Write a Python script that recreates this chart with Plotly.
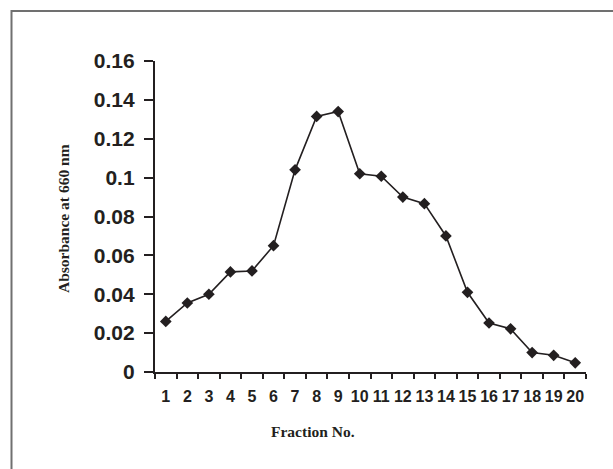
import plotly.graph_objects as go

fractions = list(range(1, 21))
absorbance = [0.026, 0.0355, 0.040, 0.0515, 0.052, 0.065, 0.104, 0.1315, 0.134, 0.102,
              0.1007, 0.090, 0.0866, 0.070, 0.041, 0.0252, 0.0222, 0.010, 0.0086, 0.0047]
y_ticks = [0, 0.02, 0.04, 0.06, 0.08, 0.1, 0.12, 0.14, 0.16]
y_tick_text = ["0", "0.02", "0.04", "0.06", "0.08", "0.1", "0.12", "0.14", "0.16"]
x_title = "Fraction No."
y_title = "Absorbance at 660 nm"

ink = "#231f20"
W, H = 613, 469
L, R, T, B = 155, 27, 61, 97
pw, ph = W - L - R, H - T - B

fig = go.Figure()
fig.add_trace(go.Scatter(
    x=fractions, y=absorbance, mode="lines+markers",
    line=dict(color=ink, width=1.6),
    marker=dict(symbol="diamond", size=9, color=ink),
    showlegend=False, cliponaxis=False, hoverinfo="skip",
))

def px2x(p):
    return (p - L) / pw

def px2y(p):
    return (H - B - p) / ph

fig.update_layout(
    width=W, height=H,
    margin=dict(l=L, r=R, t=T, b=B),
    paper_bgcolor="white", plot_bgcolor="white",
    xaxis=dict(
        range=[0.5, 20.5], tickmode="array", tickvals=fractions,
        ticktext=[str(f) for f in fractions], ticks="",
        showline=True, linecolor=ink, linewidth=2.4, showgrid=False, zeroline=False,
        tickfont=dict(family="Liberation Sans", size=16, color=ink, weight="bold"),
        ticklabelstandoff=9,
        minor=dict(tickmode="array", tickvals=[i + 0.5 for i in range(0, 21)],
                   ticks="outside", ticklen=5, tickwidth=2, tickcolor=ink),
        fixedrange=True,
    ),
    yaxis=dict(
        range=[0, 0.16], tickmode="array", tickvals=y_ticks, ticktext=y_tick_text,
        ticks="outside", ticklen=9, tickwidth=2, tickcolor=ink,
        showline=True, linecolor=ink, linewidth=2.4, showgrid=False, zeroline=False,
        tickfont=dict(family="Liberation Sans", size=21, color=ink, weight="bold"),
        ticklabelstandoff=5,
        fixedrange=True,
    ),
    font=dict(family="Liberation Sans", color=ink),
    shapes=[dict(type="rect", xref="paper", yref="paper",
                 x0=px2x(11.5), x1=px2x(630), y0=px2y(490), y1=px2y(11),
                 line=dict(color="#707070", width=2), layer="below")],
    annotations=[
        dict(text=x_title, xref="paper", yref="paper", x=px2x(313), y=px2y(431),
             showarrow=False, xanchor="center", yanchor="middle",
             font=dict(family="Liberation Serif", size=15.5, color=ink, weight="bold")),
        dict(text=y_title, xref="paper", yref="paper", x=px2x(63), y=px2y(219),
             showarrow=False, xanchor="center", yanchor="middle", textangle=-90,
             font=dict(family="Liberation Serif", size=15.5, color=ink, weight="bold")),
    ],
)

fig.write_html("out.html", config={"displayModeBar": False},
               post_script="document.body.style.margin='0';")
